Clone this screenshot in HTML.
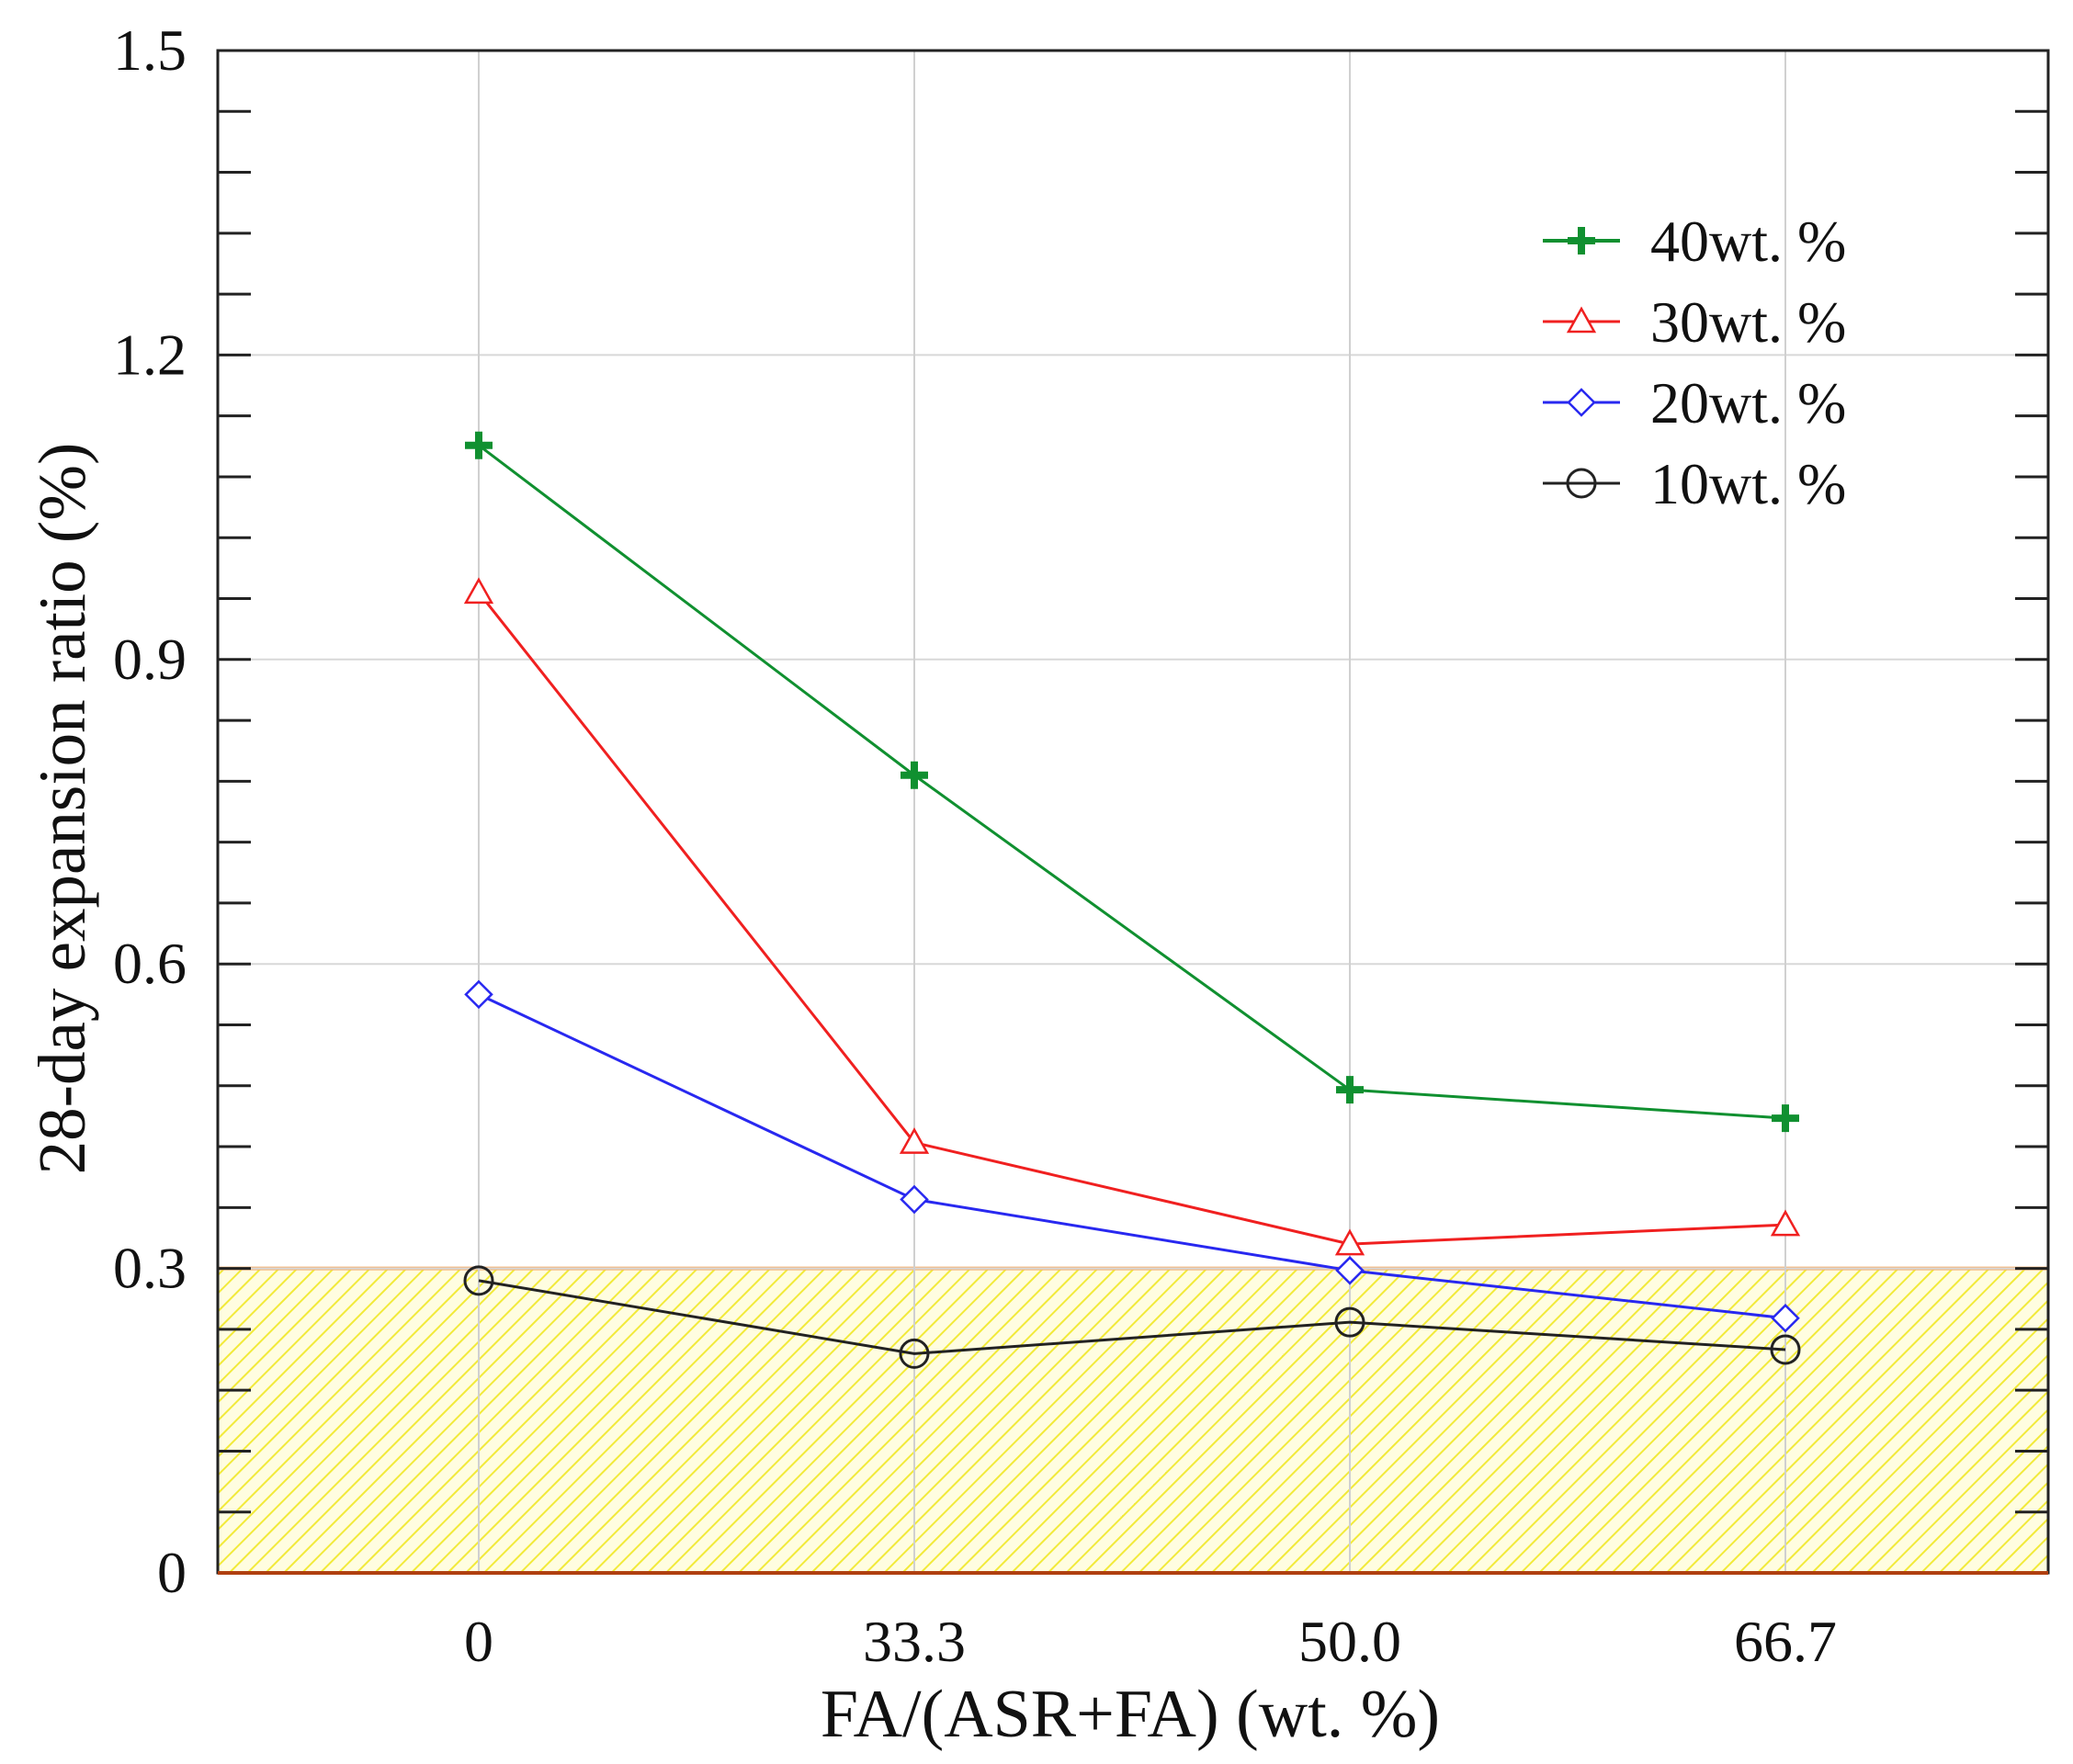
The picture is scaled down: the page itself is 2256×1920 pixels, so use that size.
<!DOCTYPE html>
<html><head><meta charset="utf-8"><style>html,body{margin:0;padding:0;background:#fff}svg{display:block}</style></head>
<body>
<svg id="chart" width="2256" height="1920" viewBox="0 0 2256 1920" font-family="'Liberation Serif', serif">
<defs>
<pattern id="hatch" patternUnits="userSpaceOnUse" width="14" height="14" patternTransform="rotate(45)">
<rect width="14" height="14" fill="#fffde0"/>
<line x1="0" y1="0" x2="0" y2="14" stroke="#f2ea3a" stroke-width="4"/>
</pattern>
</defs>
<g id="layer"></g>
</svg>
<script>
const categories = ["0","33.3","50.0","66.7"];
const s40 = [1.111, 0.786, 0.476, 0.448];
const s30 = [0.966, 0.424, 0.324, 0.343];
const s20 = [0.570, 0.368, 0.298, 0.251];
const s10 = [0.288, 0.216, 0.247, 0.220];
const yTicks = [0, 0.3, 0.6, 0.9, 1.2, 1.5];
const yTickLabels = ["0","0.3","0.6","0.9","1.2","1.5"];
const seriesNames = ["40wt. %","30wt. %","20wt. %","10wt. %"];
const threshold = 0.3;

const NS = "http://www.w3.org/2000/svg";
const L = 237, R = 2229, T = 55, B = 1712;
const x0 = 521, dx = 474;
function xs(i){ return x0 + i*dx; }
function ys(v){ return B - (v/1.5)*(B-T); }
const g = document.getElementById('layer');
function el(tag, attrs, parent){
  const e = document.createElementNS(NS, tag);
  for (const k in attrs) e.setAttribute(k, attrs[k]);
  (parent||g).appendChild(e);
  return e;
}
let z = el('rect',{x:L,y:ys(threshold),width:R-L,height:B-ys(threshold),fill:'url(#hatch)'});


let zl = el('line',{x1:L,x2:R,y1:ys(threshold),y2:ys(threshold),stroke:'#f5b070','stroke-width':4});


yTicks.forEach(v=>{ if(v>0&&v<1.5){ const l=el('line',{x1:L,x2:R,y1:ys(v),y2:ys(v),stroke:'#d8d8d8','stroke-width':2});
   }});
categories.forEach((c,i)=>{ const l=el('line',{x1:xs(i),x2:xs(i),y1:T,y2:B,stroke:'#d0d0d0','stroke-width':2});
   });
for(let k=1;k<25;k++){ const v=k*0.06; const len=36;
  const t1=el('line',{x1:L,x2:L+len,y1:ys(v),y2:ys(v),stroke:'#222','stroke-width':3});
   
  const t2=el('line',{x1:R-len,x2:R,y1:ys(v),y2:ys(v),stroke:'#222','stroke-width':3});
   
}
const fr = el('rect',{x:L,y:T,width:R-L,height:B-T,fill:'none',stroke:'#222','stroke-width':3});
 
const bl = el('line',{x1:L,x2:R,y1:B,y2:B,stroke:'#b04010','stroke-width':4});
 
yTicks.forEach((v,i)=>{ const t=el('text',{x:203,y:ys(v)+21,'text-anchor':'end','font-size':64,fill:'#111'}); t.textContent=yTickLabels[i];
   });
categories.forEach((c,i)=>{ const t=el('text',{x:xs(i),y:1808,'text-anchor':'middle','font-size':64,fill:'#111'}); t.textContent=c;
   });
const xt=el('text',{x:1230,y:1890,'text-anchor':'middle','font-size':74,fill:'#111'}); xt.textContent='FA/(ASR+FA) (wt. %)';
 
const yt=el('text',{x:0,y:0,'text-anchor':'middle','font-size':73,fill:'#111',transform:'translate(92,880) rotate(-90)'}); yt.textContent='28-day expansion ratio (%)';
 
function marker(type,x,y,color,parent){
  let m;
  if(type==='plus'){ m=el('path',{d:`M${x-15},${y}H${x+15}M${x},${y-15}V${y+15}`,stroke:color,'stroke-width':8,fill:'none'},parent); }
  else if(type==='tri'){ m=el('path',{d:`M${x},${y-14}L${x+14},${y+11}L${x-14},${y+11}Z`,stroke:color,'stroke-width':2.5,fill:'#fff'},parent); }
  else if(type==='dia'){ m=el('path',{d:`M${x},${y-14}L${x+14},${y}L${x},${y+14}L${x-14},${y}Z`,stroke:color,'stroke-width':2.5,fill:'#fff'},parent); }
  else { m=el('circle',{cx:x,cy:y,r:15,stroke:color,'stroke-width':3,fill:'none'},parent); }
  return m;
}
const series=[[s40,'#109030','plus','series-40wt'],[s30,'#f02020','tri','series-30wt'],[s20,'#2828f0','dia','series-20wt'],[s10,'#222','circ','series-10wt']];
series.slice().reverse().forEach(([d,c,mt,nm])=>{
  const grp=el('g',{});
   
  const ln=el('polyline',{points:d.map((v,i)=>xs(i)+','+ys(v)).join(' '),fill:'none',stroke:c,'stroke-width':3},grp);
   
  d.forEach((v,i)=>{ const m=marker(mt,xs(i),ys(v),c,grp);
      });
});
const lg=el('g',{});  
series.forEach(([d,c,mt,nm],i)=>{
  const y=262+i*88;
  const e=el('g',{},lg);  
  el('line',{x1:1679,x2:1763,y1:y,y2:y,stroke:c,'stroke-width':i===0?4:3},e);
  marker(mt,1721,y,c,e);
  const t=el('text',{x:1796,y:y+22,'font-size':64,fill:'#111'},e); t.textContent=seriesNames[i];
});
</script>
</body></html>
